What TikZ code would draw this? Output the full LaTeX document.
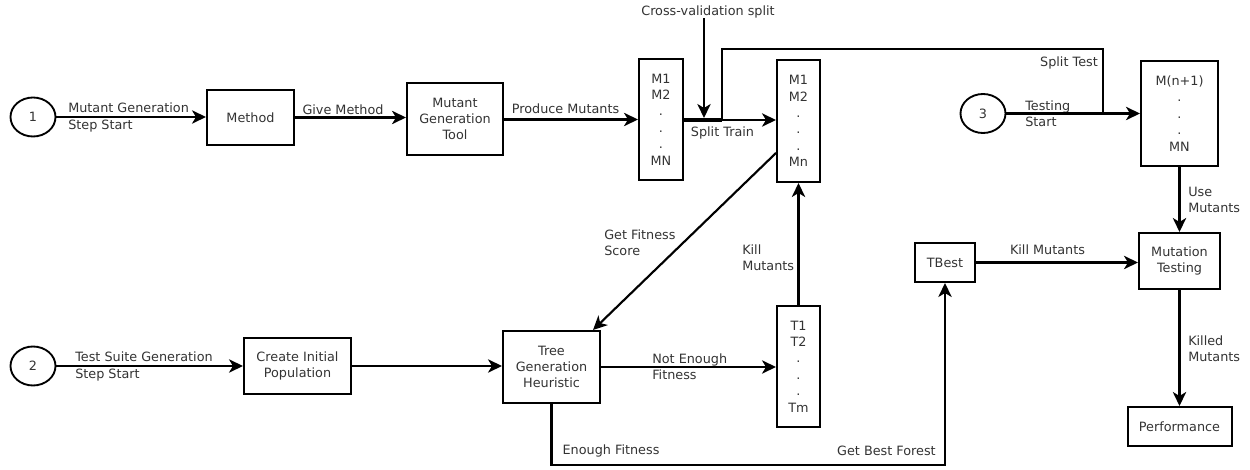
\documentclass[tikz,border=0pt]{standalone}
\usepackage{fontspec}
\setmainfont{DejaVu Sans}
\usetikzlibrary{arrows.meta,calc,shapes.geometric}

\begin{document}
\begin{tikzpicture}[x=0.75pt,y=-0.75pt,
  every node/.style={font=\fontsize{9.6}{12.3}\selectfont, text=black!80},
  box/.style={draw=black, line width=1.5pt, align=center, inner sep=0pt},
  startcirc/.style={draw=black, line width=1.4pt, ellipse, inner sep=0pt,
    minimum width=45*0.75pt, minimum height=39*0.75pt},
  lbl/.style={inner sep=0pt, align=left},
  flow/.style={draw=black, line width=1.6pt},
  arr/.style={flow, -{Stealth[length=10.5pt, width=10pt, inset=3pt]}}
]
\path[use as bounding box] (0,0) rectangle (1250,470);

% start markers
\node[startcirc] (c1) at (33,117) {1};
\node[startcirc] (c2) at (33,366) {2};
\node[startcirc] (c3) at (983,113.5) {3};

% mutant generation row
\node[box, minimum width=87*0.75pt, minimum height=55*0.75pt] (method) at (250.5,117.5) {Method};
\node[box, minimum width=96*0.75pt, minimum height=72*0.75pt] (tool) at (455,119) {Mutant\\Generation\\Tool};
\node[box, minimum width=44*0.75pt, minimum height=121*0.75pt] (mall) at (661,119.5) {M1\\M2\\.\\.\\.\\MN};
\node[box, minimum width=43*0.75pt, minimum height=122*0.75pt] (msub) at (798.5,121) {M1\\M2\\.\\.\\.\\Mn};
\node[box, minimum width=77*0.75pt, minimum height=105*0.75pt] (mrest) at (1179.5,113.5) {M(n+1)\\.\\.\\.\\MN};

% testing column
\node[box, minimum width=81*0.75pt, minimum height=56*0.75pt] (mt) at (1179.5,261) {Mutation\\Testing};
\node[box, minimum width=60*0.75pt, minimum height=39*0.75pt] (tbest) at (945,262.5) {TBest};
\node[box, minimum width=104*0.75pt, minimum height=39*0.75pt] (perf) at (1179.5,426.5) {Performance};

% test suite generation row
\node[box, minimum width=107*0.75pt, minimum height=56*0.75pt] (pop) at (297.5,366) {Create Initial\\Population};
\node[box, minimum width=97*0.75pt, minimum height=72*0.75pt] (tree) at (551.5,367) {Tree\\Generation\\Heuristic};
\node[box, minimum width=43*0.75pt, minimum height=121*0.75pt] (tset) at (798.5,366.5) {T1\\T2\\.\\.\\.\\Tm};

% junction points
\coordinate (split) at (722,120);
\coordinate (jt) at (1103,113.5);
\coordinate (cvend) at (704,118);

% labels
\node[lbl, anchor=west] (lmut) at (68,117.5) {Mutant Generation\\Step Start};
\node[lbl] (lgive) at (343,110) {Give Method};
\node[lbl] (lprod) at (565.5,109) {Produce Mutants};
\node[lbl] (lcv) at (708,12) {Cross-validation split};
\node[lbl] (ltrain) at (722.5,133) {Split Train};
\node[lbl] (lstest) at (1069,63) {Split Test};
\node[lbl, anchor=west] (ltesting) at (1025,113.5) {Testing\\Start};
\node[lbl, anchor=west] (luse) at (1188,200) {Use\\Mutants};
\node[lbl] (lkill2) at (1047.5,250) {Kill Mutants};
\node[lbl, anchor=west] (lkilled) at (1188,348.5) {Killed\\Mutants};
\node[lbl] (lenough) at (611,451) {Enough Fitness};
\node[lbl, anchor=east] (lbest) at (936,451) {Get Best Forest};
\node[lbl, anchor=west] (lnot) at (652,367) {Not Enough\\Fitness};
\node[lbl, anchor=west] (lfit) at (604,242.5) {Get Fitness\\Score};
\node[lbl, anchor=west] (lkill1) at (742,258) {Kill\\Mutants};
\node[lbl, anchor=west] (ltest) at (75,366.5) {Test Suite Generation\\Step Start};

% connectors: mutant generation
\draw[arr] (c1.east) -- (c1.east -| method.west);
\draw[arr] (method.east) -- (method.east -| tool.west);
\draw[arr] (tool.east |- mall.west) -- (mall.west);
\draw[flow, line width=3pt] (mall.east |- split) -- (split);
\draw[arr] (split) -- (split -| msub.west);
\draw[arr] (lcv.south -| cvend) -- (cvend);
\draw[flow] (split) -- ++(0,-71) -| (jt);
\draw[arr] (c3) -- (mrest);

% connectors: testing
\draw[arr] (mrest.south) -- (mt.north);
\draw[arr] (tbest.east) -- (tbest.east -| mt.west);
\draw[arr] (mt.south) -- (perf.north);

% connectors: test suite generation
\draw[arr] (c2) -- (pop);
\draw[arr] (pop.east) -- (pop.east -| tree.west);
\draw[arr] (tree.east) -- (tree.east -| tset.west);
\draw[arr] (tset.north) -- (msub.south);
\draw[arr] ($(msub.south west)+(0,-30)$) -- ($(tree.north east)+(-8,0)$);
\draw[arr] (tree.south) -- ++(0,61) -| (tbest.south);
\end{tikzpicture}
\end{document}
